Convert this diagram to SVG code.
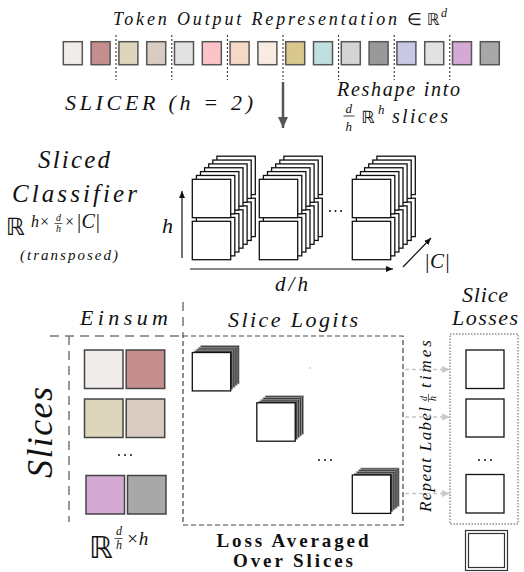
<svg xmlns="http://www.w3.org/2000/svg" xmlns:xlink="http://www.w3.org/1999/xlink" width="524" height="572" viewBox="0 0 524 572">
<style>
text{font-family:'Liberation Serif','Times New Roman',serif;fill:#111}
.it{font-style:italic}
.bb{font-family:'DejaVu Sans',sans-serif}
.bold{font-weight:bold}
.tok{stroke:#555;stroke-width:1.5}
.es{stroke:#444;stroke-width:1.5}
.sep{stroke:#222;stroke-width:1;stroke-dasharray:2,2}
.wsq{fill:#fff;stroke:#111;stroke-width:1.3}
.gd{fill:none;stroke:#777;stroke-width:1.5;stroke-dasharray:9,6}
.bd{fill:none;stroke:#444;stroke-width:1.2;stroke-dasharray:5,3}
.dd{fill:none;stroke:#555;stroke-width:1;stroke-dasharray:1.5,1.5}
.rep{stroke:#c8c8c8;stroke-width:1.6;stroke-dasharray:4,3;fill:none}
.ax{stroke:#111;stroke-width:1.2;fill:none}
.dot{fill:#111}
.back{fill:#3a3a3a;stroke:#aaa;stroke-width:0.7}
</style>
<defs>
<marker id="ah" markerWidth="8" markerHeight="8" refX="7" refY="4" orient="auto" markerUnits="userSpaceOnUse">
<path d="M0,1 L7,4 L0,7 Z" fill="#111"/>
</marker>
<marker id="ahg" markerWidth="9" markerHeight="9" refX="8" refY="4.5" orient="auto" markerUnits="userSpaceOnUse">
<path d="M0,1 L8,4.5 L0,8 Z" fill="#c8c8c8"/>
</marker>
<marker id="ahd" markerWidth="12" markerHeight="12" refX="11" refY="6" orient="auto" markerUnits="userSpaceOnUse">
<path d="M0,1 L11,6 L0,11 Z" fill="#555"/>
</marker>
<g id="stack">
<rect class="wsq" x="24.6" y="-23.1" width="38.4" height="38.4"/><rect class="wsq" x="24.6" y="18.9" width="38.4" height="38.4"/>
<rect class="wsq" x="20.5" y="-19.25" width="38.4" height="38.4"/><rect class="wsq" x="20.5" y="22.75" width="38.4" height="38.4"/>
<rect class="wsq" x="16.4" y="-15.4" width="38.4" height="38.4"/><rect class="wsq" x="16.4" y="26.6" width="38.4" height="38.4"/>
<rect class="wsq" x="12.3" y="-11.55" width="38.4" height="38.4"/><rect class="wsq" x="12.3" y="30.45" width="38.4" height="38.4"/>
<rect class="wsq" x="8.2" y="-7.7" width="38.4" height="38.4"/><rect class="wsq" x="8.2" y="34.3" width="38.4" height="38.4"/>
<rect class="wsq" x="4.1" y="-3.85" width="38.4" height="38.4"/><rect class="wsq" x="4.1" y="38.15" width="38.4" height="38.4"/>
<rect class="wsq" x="0" y="0" width="38.4" height="38.4"/><rect class="wsq" x="0" y="42" width="38.4" height="38.4"/>
</g>
<g id="cube">
<rect class="back" x="8.4" y="-7" width="38.4" height="38.4"/>
<rect class="back" x="6.3" y="-5.25" width="38.4" height="38.4"/>
<rect class="back" x="4.2" y="-3.5" width="38.4" height="38.4"/>
<rect class="back" x="2.1" y="-1.75" width="38.4" height="38.4"/>
<rect class="wsq" x="0" y="0" width="38.4" height="38.4"/>
</g>
</defs>

<g id="token-representation">
<text class="it" x="113" y="25" font-size="18" textLength="284" lengthAdjust="spacing">Token Output Representation</text>
<text x="407" y="25" font-size="17">∈</text>
<text class="bb" x="427" y="25" font-size="16">ℝ</text>
<text class="it" x="441" y="17" font-size="12">d</text>
<rect class="tok" x="63.3" y="41.7" width="19" height="23" fill="#f0ecea"/>
<rect class="tok" x="91.1" y="41.7" width="19" height="23" fill="#c48e8e"/>
<rect class="tok" x="118.9" y="41.7" width="19" height="23" fill="#ddd6bc"/>
<rect class="tok" x="146.7" y="41.7" width="19" height="23" fill="#d9cbc2"/>
<rect class="tok" x="174.5" y="41.7" width="19" height="23" fill="#e2e2e2"/>
<rect class="tok" x="202.3" y="41.7" width="19" height="23" fill="#fcc4c8"/>
<rect class="tok" x="230.1" y="41.7" width="19" height="23" fill="#f5d8c5"/>
<rect class="tok" x="257.9" y="41.7" width="19" height="23" fill="#f9ebe2"/>
<rect class="tok" x="285.7" y="41.7" width="19" height="23" fill="#d8c88c"/>
<rect class="tok" x="313.5" y="41.7" width="19" height="23" fill="#bfe0df"/>
<rect class="tok" x="341.3" y="41.7" width="19" height="23" fill="#d4d4d4"/>
<rect class="tok" x="369.1" y="41.7" width="19" height="23" fill="#999999"/>
<rect class="tok" x="396.9" y="41.7" width="19" height="23" fill="#c8c8e6"/>
<rect class="tok" x="424.7" y="41.7" width="19" height="23" fill="#e2e2e2"/>
<rect class="tok" x="452.5" y="41.7" width="19" height="23" fill="#d4a9d4"/>
<rect class="tok" x="480.3" y="41.7" width="19" height="23" fill="#a8a8a8"/>
<line class="sep" x1="116" y1="35" x2="116" y2="80"/>
<line class="sep" x1="171.8" y1="35" x2="171.8" y2="80"/>
<line class="sep" x1="227.4" y1="35" x2="227.4" y2="80"/>
<line class="sep" x1="283" y1="35" x2="283" y2="80"/>
<line class="sep" x1="338.6" y1="35" x2="338.6" y2="80"/>
<line class="sep" x1="394.2" y1="35" x2="394.2" y2="80"/>
<line class="sep" x1="449.8" y1="35" x2="449.8" y2="80"/>
</g>

<g id="slicer-step">
<text class="it" x="65" y="110" font-size="22" textLength="188" lengthAdjust="spacing">SLICER (h = 2)</text>
<text class="it" x="337" y="96" font-size="20" textLength="123" lengthAdjust="spacing">Reshape into</text>
<text class="it" x="345.5" y="112.5" font-size="13">d</text>
<line x1="343.5" y1="116" x2="354.5" y2="116" stroke="#111" stroke-width="0.8"/>
<text class="it" x="345.5" y="131" font-size="13">h</text>
<text class="bb" x="361" y="123" font-size="17">ℝ</text>
<text class="it" x="378" y="114" font-size="13">h</text>
<text class="it" x="392" y="123" font-size="20" textLength="56" lengthAdjust="spacing">slices</text>
</g>

<g id="sliced-classifier-label">
<text class="it" x="38" y="168" font-size="25" textLength="72" lengthAdjust="spacing">Sliced</text>
<text class="it" x="12" y="202" font-size="25" textLength="125" lengthAdjust="spacing">Classifier</text>
<text class="bb" x="6" y="235" font-size="24">ℝ</text>
<text class="it" x="31" y="227" font-size="16">h×</text>
<text class="it" x="56" y="221" font-size="10">d</text>
<line x1="54.5" y1="223.5" x2="62.5" y2="223.5" stroke="#111" stroke-width="0.7"/>
<text class="it" x="56" y="232" font-size="10">h</text>
<text class="it" x="64" y="227" font-size="16">×</text>
<text class="it" x="76" y="228" font-size="20">|C|</text>
<text class="it" x="20" y="260" font-size="15" textLength="98" lengthAdjust="spacing">(transposed)</text>
</g>

<g id="sliced-classifier">
<use xlink:href="#stack" href="#stack" x="192.3" y="179.3"/>
<use xlink:href="#stack" href="#stack" x="259.3" y="179.3"/>
<use xlink:href="#stack" href="#stack" x="352.3" y="179.3"/>
<circle class="dot" cx="330" cy="211" r="1"/><circle class="dot" cx="335.5" cy="211" r="1"/><circle class="dot" cx="341" cy="211" r="1"/>
<text class="it" x="162" y="233" font-size="22">h</text>
<text class="it" x="275" y="291" font-size="21" textLength="33" lengthAdjust="spacing">d/h</text>
<text class="it" x="424" y="268" font-size="21" textLength="26" lengthAdjust="spacing">|C|</text>
</g>

<g id="einsum">
<text class="it" x="80" y="325" font-size="22" textLength="88" lengthAdjust="spacing">Einsum</text>
<rect class="es" x="84.5" y="350" width="38.5" height="38.5" fill="#f0ecea"/>
<rect class="es" x="126.2" y="350" width="38.5" height="38.5" fill="#c48e8e"/>
<rect class="es" x="84.5" y="399" width="38.5" height="38.5" fill="#ddd6bc"/>
<rect class="es" x="126.2" y="399" width="38.5" height="38.5" fill="#d9cbc2"/>
<circle class="dot" cx="119" cy="455" r="1"/><circle class="dot" cx="125" cy="455" r="1"/><circle class="dot" cx="131" cy="455" r="1"/>
<rect class="es" x="86" y="475.5" width="38.5" height="38.5" fill="#d4a9d4"/>
<rect class="es" x="127.5" y="475.5" width="38.5" height="38.5" fill="#a8a8a8"/>
<text class="bb" x="89" y="558" font-size="30">ℝ</text>
<text class="it" x="116" y="535" font-size="12">d</text>
<line x1="114.5" y1="538.5" x2="122.5" y2="538.5" stroke="#111" stroke-width="0.7"/>
<text class="it" x="116" y="549" font-size="12">h</text>
<text class="it" x="126" y="545" font-size="19">×h</text>
</g>

<g id="slices-label">
<text class="it" transform="translate(52,478) rotate(-90)" x="0" y="0" font-size="36" textLength="91" lengthAdjust="spacing">Slices</text>
</g>

<g id="slice-logits">
<text class="it" x="228" y="327" font-size="22" textLength="130" lengthAdjust="spacing">Slice Logits</text>
<use xlink:href="#cube" href="#cube" x="192.3" y="352.5"/>
<use xlink:href="#cube" href="#cube" x="256.8" y="402.8"/>
<use xlink:href="#cube" href="#cube" x="352.3" y="475"/>
<circle cx="310" cy="368" r="0.9" fill="#ccc"/>
<circle class="dot" cx="319" cy="460" r="1"/><circle class="dot" cx="325" cy="460" r="1"/><circle class="dot" cx="331" cy="460" r="1"/>
<text class="bold" x="216.5" y="547" font-size="19" textLength="152" lengthAdjust="spacing">Loss Averaged</text>
<text class="bold" x="233" y="567" font-size="19" textLength="120" lengthAdjust="spacing">Over Slices</text>
</g>

<g id="slice-losses">
<text class="it" x="462" y="302" font-size="22" textLength="46" lengthAdjust="spacing">Slice</text>
<text class="it" x="452" y="325" font-size="22" textLength="66" lengthAdjust="spacing">Losses</text>
<rect class="dd" x="450" y="334" width="68" height="190"/>
<rect class="wsq" x="466" y="350" width="38" height="38.5"/>
<rect class="wsq" x="466" y="399" width="38" height="38"/>
<circle class="dot" cx="479" cy="460" r="1"/><circle class="dot" cx="485" cy="460" r="1"/><circle class="dot" cx="491" cy="460" r="1"/>
<rect class="wsq" x="466" y="474.5" width="38" height="38.5"/>
<rect x="465.5" y="530.5" width="42" height="40" fill="#fff" stroke="#333" stroke-width="1.2"/>
<rect x="468.5" y="533.5" width="36" height="34" fill="#fff" stroke="#333" stroke-width="1.2"/>
</g>

<g id="repeat-label">
<g transform="translate(431,512) rotate(-90)">
<text class="it" x="0" y="0" font-size="17" textLength="105" lengthAdjust="spacing">Repeat Label</text>
<text class="it" x="111" y="-4.5" font-size="10">d</text>
<line x1="110" y1="-2.5" x2="118" y2="-2.5" stroke="#111" stroke-width="0.6"/>
<text class="it" x="111" y="4.5" font-size="10">h</text>
<text class="it" x="124" y="0" font-size="17" textLength="48" lengthAdjust="spacing">times</text>
</g>
</g>

<g id="connectors">
<line x1="283" y1="82" x2="283" y2="128" stroke="#555" stroke-width="2.5" marker-end="url(#ahd)"/>
<line class="ax" x1="182" y1="258" x2="182" y2="191" marker-end="url(#ah)"/>
<line class="ax" x1="190" y1="269" x2="393" y2="269" marker-end="url(#ah)"/>
<line class="ax" x1="403" y1="267" x2="431" y2="238" marker-end="url(#ah)"/>
<path class="gd" d="M50,336 H183 M183,302 V336 M69,336 V522"/>
<rect class="bd" x="183" y="336" width="220" height="189"/>
<line class="rep" x1="405" y1="369.5" x2="450" y2="369.5" marker-end="url(#ahg)"/>
<line class="rep" x1="405" y1="417" x2="450" y2="417" marker-end="url(#ahg)"/>
<line class="rep" x1="405" y1="493.5" x2="450" y2="493.5" marker-end="url(#ahg)"/>
</g>
</svg>
